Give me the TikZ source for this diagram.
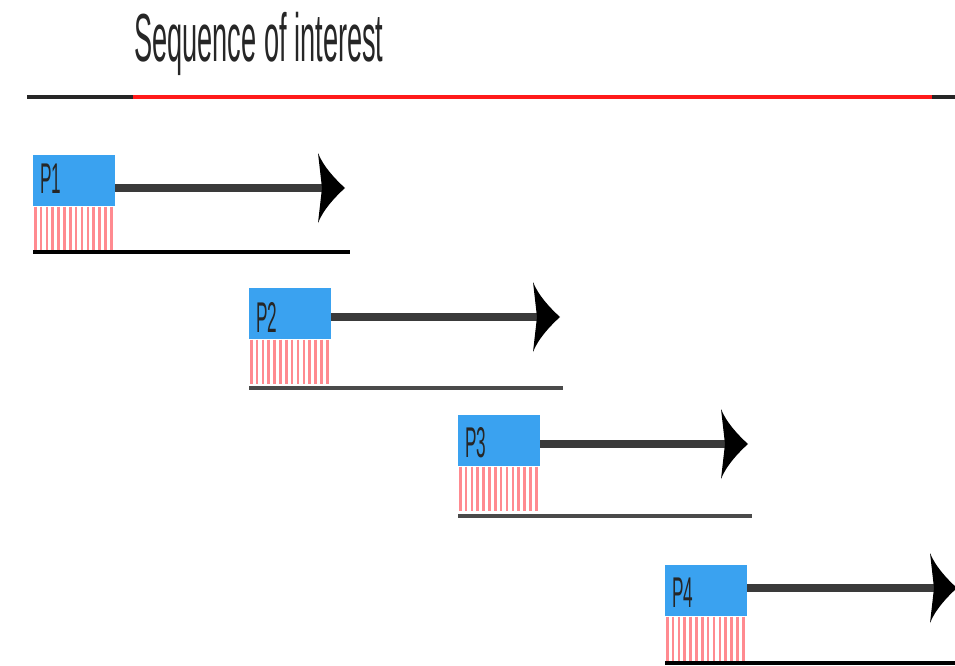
\documentclass[tikz,border=0pt]{standalone}
\usepackage{fontspec}
\setmainfont{Liberation Sans}
\definecolor{boxblue}{HTML}{3AA2F0}
\definecolor{hatchred}{HTML}{FF8A90}
\definecolor{shaftc}{HTML}{3A3A3A}
\definecolor{seqred}{HTML}{FF1A1A}
\definecolor{basegrey}{HTML}{4A4A4A}
\tikzset{
  bluebox/.style={fill=boxblue, draw=none, minimum width=82pt, minimum height=51pt, inner sep=0pt, anchor=north west},
  hatchbox/.style={draw=none, minimum width=82pt, minimum height=44pt, inner sep=0pt, anchor=north west,
    path picture={\foreach \i in {0,...,13}{\draw[hatchred, line width=2.6pt]
      ([xshift=\i*5.85pt+2pt]path picture bounding box.north west) --
      ([xshift=\i*5.85pt+2pt]path picture bounding box.south west);}}},
  plabel/.style={font=\fontsize{43}{45}\selectfont, xscale=0.4, inner sep=0pt, anchor=base west, text=black!85},
  shaft/.style={shaftc, line width=8pt},
  strand/.style={line width=4pt},
  headc/.style={fill=black},
}
\newcommand\myhead[1]{\begin{scope}[shift={(#1)}]
  \fill[headc] (-27,-35) .. controls (-22,-22) and (-10,-9) .. (0,0)
     .. controls (-10,9) and (-22,22) .. (-27,35) -- (-23,0) -- cycle;
\end{scope}}
\begin{document}
\begin{tikzpicture}[x=1pt,y=-1pt]
\useasboundingbox (0,0) rectangle (955,666);
% title
\node[font=\fontsize{68}{72}\selectfont, xscale=0.40, inner sep=0pt, anchor=base west, text=black!85] (title) at (134,62) {Sequence of interest};
% sequence line
\coordinate (s0) at (27,97);
\coordinate (s1) at (133,97);
\coordinate (s2) at (932,97);
\coordinate (s3) at (955,97);
\draw[strand, black!85] (s0) -- (s3);
\draw[strand, seqred] (s1) -- (s2);
% rows: x0, bluetop, arrowy, tipx, lineend, liney, labelbase, linecolor
\foreach \n/\xo/\bt/\ay/\tx/\le/\ly/\lb/\lc in {
   1/33/155/188/345/350/252/193/black,
   2/249/288/317/560/563/388/332/basegrey,
   3/458/415/444/748/752/516/457/basegrey,
   4/665/565/588/957/955/663/607/black}{
  \node[bluebox] (p\n) at (\xo,\bt) {};
  \node[hatchbox] (h\n) at (p\n.south west) {};
  \node[plabel] (l\n) at (\xo+7,\lb) {P\n};
  \coordinate (t\n) at (\tx,\ay);
  \coordinate (a\n) at (\tx-22,\ay);
  \coordinate (e\n) at (\le,\ly);
  \draw[strand, \lc] (h\n.south west |- e\n) -- (e\n);
  \draw[shaft] (p\n.east |- a\n) -- (a\n);
  \myhead{t\n}
}
\end{tikzpicture}
\end{document}
